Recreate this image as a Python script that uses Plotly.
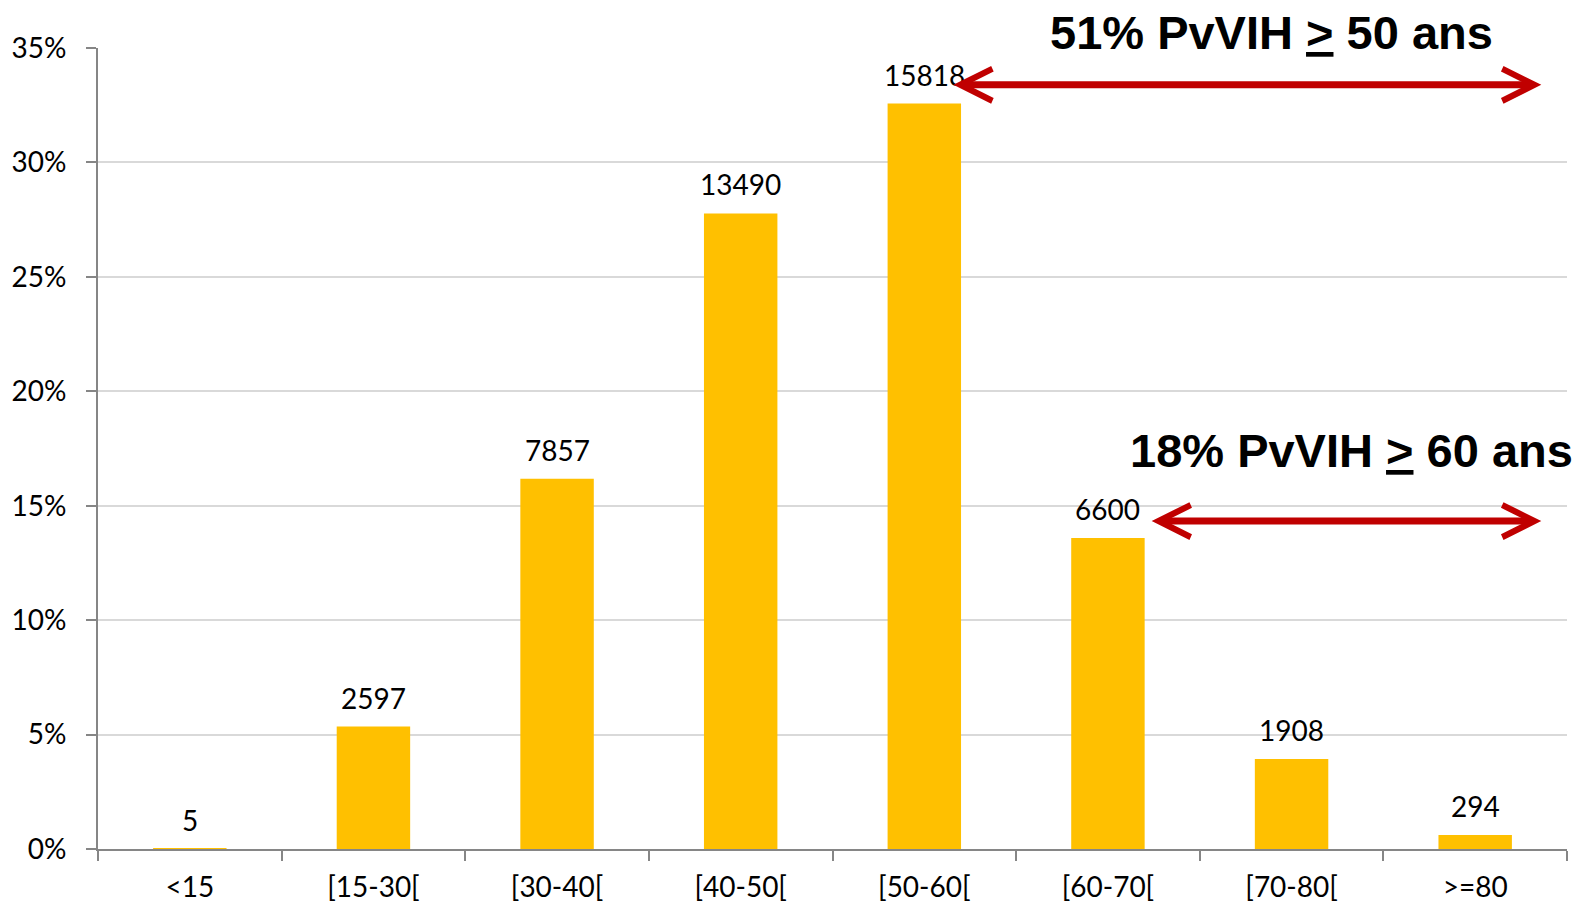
import plotly.graph_objects as go

age_groups = ["<15", "[15-30[", "[30-40[", "[40-50[", "[50-60[", "[60-70[", "[70-80[", ">=80"]
counts = [5, 2597, 7857, 13490, 15818, 6600, 1908, 294]
shares = [0.01, 5.35, 16.18, 27.77, 32.57, 13.59, 3.93, 0.61]

grey = "#868686"
label_font = dict(family="Lato, Carlito, sans-serif", size=28, color="black")

fig = go.Figure(go.Bar(x=age_groups, y=shares, marker_color="#FFC000", marker_line_width=0))

# count labels above each bar
for cat, val, n in zip(age_groups, shares, counts):
    fig.add_annotation(x=cat, y=val, text=str(n), showarrow=False,
                       yanchor="bottom", yshift=10, font=label_font)

# double-headed red arrows
arrow = dict(showarrow=True, arrowhead=5, startarrowhead=5, arrowside="end+start",
             arrowsize=0.9, startarrowsize=0.9, arrowwidth=7, arrowcolor="#C00000",
             xref="x", yref="y", axref="x", ayref="y", text="")
fig.add_annotation(x=7.36, y=33.39, ax=4.15, ay=33.39, **arrow)
fig.add_annotation(x=7.36, y=14.33, ax=5.23, ay=14.33, **arrow)

big = dict(family="Liberation Sans, Arial, sans-serif", size=47, color="black")
fig.add_annotation(x=0.799, y=1.0195, xref="paper", yref="paper", showarrow=False,
                   xanchor="center", yanchor="middle",
                   text="<b>51% PvVIH <u>></u> 50 ans</b>", font=big)
fig.add_annotation(x=0.853, y=0.4975, xref="paper", yref="paper", showarrow=False,
                   xanchor="center", yanchor="middle",
                   text="<b>18% PvVIH <u>></u> 60 ans</b>", font=big)

# the page body adds 8px around the figure
fig.update_layout(
    width=1579, height=897,
    margin=dict(l=90, r=20, t=40, b=56),
    plot_bgcolor="white", paper_bgcolor="white",
    bargap=0.6, showlegend=False,
    font=dict(family="Lato, Carlito, sans-serif", color="black"),
)
fig.update_xaxes(showline=True, linecolor=grey, linewidth=2, ticks="outside",
                 tickson="boundaries", ticklen=10, tickcolor=grey, tickwidth=2,
                 showgrid=False, tickfont=dict(size=28), ticklabelstandoff=12,
                 automargin=False)
fig.update_yaxes(range=[0, 35], dtick=5, ticksuffix="%", showline=True, linecolor=grey,
                 linewidth=2, ticks="outside", ticklen=10, tickcolor=grey, tickwidth=2,
                 gridcolor="#D9D9D9", gridwidth=2, zeroline=False,
                 tickfont=dict(size=28), ticklabelstandoff=14, automargin=False)

fig.write_html("out.html")
